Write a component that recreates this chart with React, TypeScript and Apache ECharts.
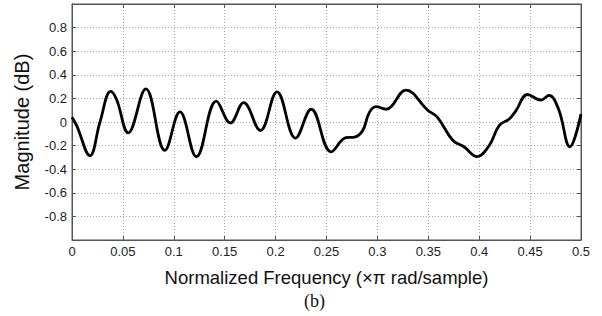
import React, { useEffect, useRef } from "react";
import * as echarts from "echarts";

const freq = [0, 0.0046, 0.0176, 0.0275, 0.038, 0.0438, 0.0552, 0.0725, 0.0912, 0.106, 0.1222, 0.1418, 0.1556, 0.1686, 0.185, 0.2013, 0.2196, 0.235, 0.2546, 0.269, 0.2775, 0.2856, 0.292, 0.2987, 0.3085, 0.328, 0.3494, 0.359, 0.374, 0.385, 0.398, 0.41, 0.4196, 0.4294, 0.436, 0.4474, 0.4605, 0.4686, 0.478, 0.489, 0.5];
const magnitude = [0.04, -0.03, -0.286, 0.0, 0.26, 0.19, -0.092, 0.28, -0.24, 0.086, -0.294, 0.177, -0.008, 0.164, -0.072, 0.256, -0.136, 0.108, -0.253, -0.133, -0.128, -0.072, 0.08, 0.13, 0.108, 0.27, 0.1, 0.04, -0.155, -0.21, -0.294, -0.197, -0.03, 0.025, 0.094, 0.233, 0.186, 0.225, 0.108, -0.21, 0.067];

const xLabels = ["0", "0.05", "0.1", "0.15", "0.2", "0.25", "0.3", "0.35", "0.4", "0.45", "0.5"];
const yLabels = ["", "-0.8", "-0.6", "-0.4", "-0.2", "0", "0.2", "0.4", "0.6", "0.8", ""];

const xTitle = "Normalized Frequency (\u00d7\u03c0 rad/sample)";
const yTitle = "Magnitude (dB)";
const caption = "(b)";

export default function App() {
  const ref = useRef<HTMLDivElement>(null);
  useEffect(() => {
    document.body.style.margin = "0";
    if (!ref.current) return;
    const chart = echarts.init(ref.current, undefined, { renderer: "svg" });
    const font = "Liberation Sans, Arial, sans-serif";
    const split = { show: true, lineStyle: { color: "#a8a8a8", type: [1, 2] as any, width: 1 } };
    const xl = (v: number) => xLabels[Math.round(v / 0.05)] ?? "";
    const yl = (v: number) => yLabels[Math.round((v + 1) / 0.2)] ?? "";
    const axLine = { show: true, onZero: false, lineStyle: { color: "#555" } };
    const tick = { show: true, inside: true, length: 4, lineStyle: { color: "#555" } };
    chart.setOption({
      animation: false,
      backgroundColor: "#fff",
      grid: { left: 72, right: 21, top: 4, bottom: 76, show: true, borderColor: "#555", borderWidth: 1 },
      xAxis: [
        {
          type: "value", min: 0, max: 0.5, interval: 0.05,
          name: xTitle, nameLocation: "middle", nameGap: 28,
          nameTextStyle: { fontFamily: font, fontSize: 18.5, color: "#111" },
          axisLine: axLine, axisTick: tick,
          axisLabel: { formatter: xl, fontFamily: font, fontSize: 13, color: "#222", margin: 5 },
          splitLine: split,
        },
        {
          type: "value", min: 0, max: 0.5, interval: 0.05, position: "top",
          axisLine: axLine, axisTick: tick,
          axisLabel: { show: false }, splitLine: { show: false },
        },
      ],
      yAxis: [
        {
          type: "value", min: -1, max: 1, interval: 0.2,
          name: yTitle, nameLocation: "middle", nameGap: 40,
          nameTextStyle: { fontFamily: font, fontSize: 20, color: "#111" },
          axisLine: axLine, axisTick: tick,
          axisLabel: { formatter: yl, fontFamily: font, fontSize: 13, color: "#222", margin: 5 },
          splitLine: split,
        },
        {
          type: "value", min: -1, max: 1, interval: 0.2, position: "right",
          axisLine: axLine, axisTick: tick,
          axisLabel: { show: false }, splitLine: { show: false },
        },
      ],
      graphic: [
        {
          type: "text", left: 304, top: 292,
          style: { text: caption, font: "18px 'Liberation Serif', 'Times New Roman', serif", fill: "#111" },
        },
      ],
      series: [
        {
          type: "line",
          data: freq.map((f, i) => [f, magnitude[i]]),
          smooth: 0.4,
          symbol: "none",
          lineStyle: { color: "#000", width: 2.8 },
        },
      ],
    });
    return () => chart.dispose();
  }, []);
  return <div ref={ref} style={{ width: 602, height: 316 }} />;
}
